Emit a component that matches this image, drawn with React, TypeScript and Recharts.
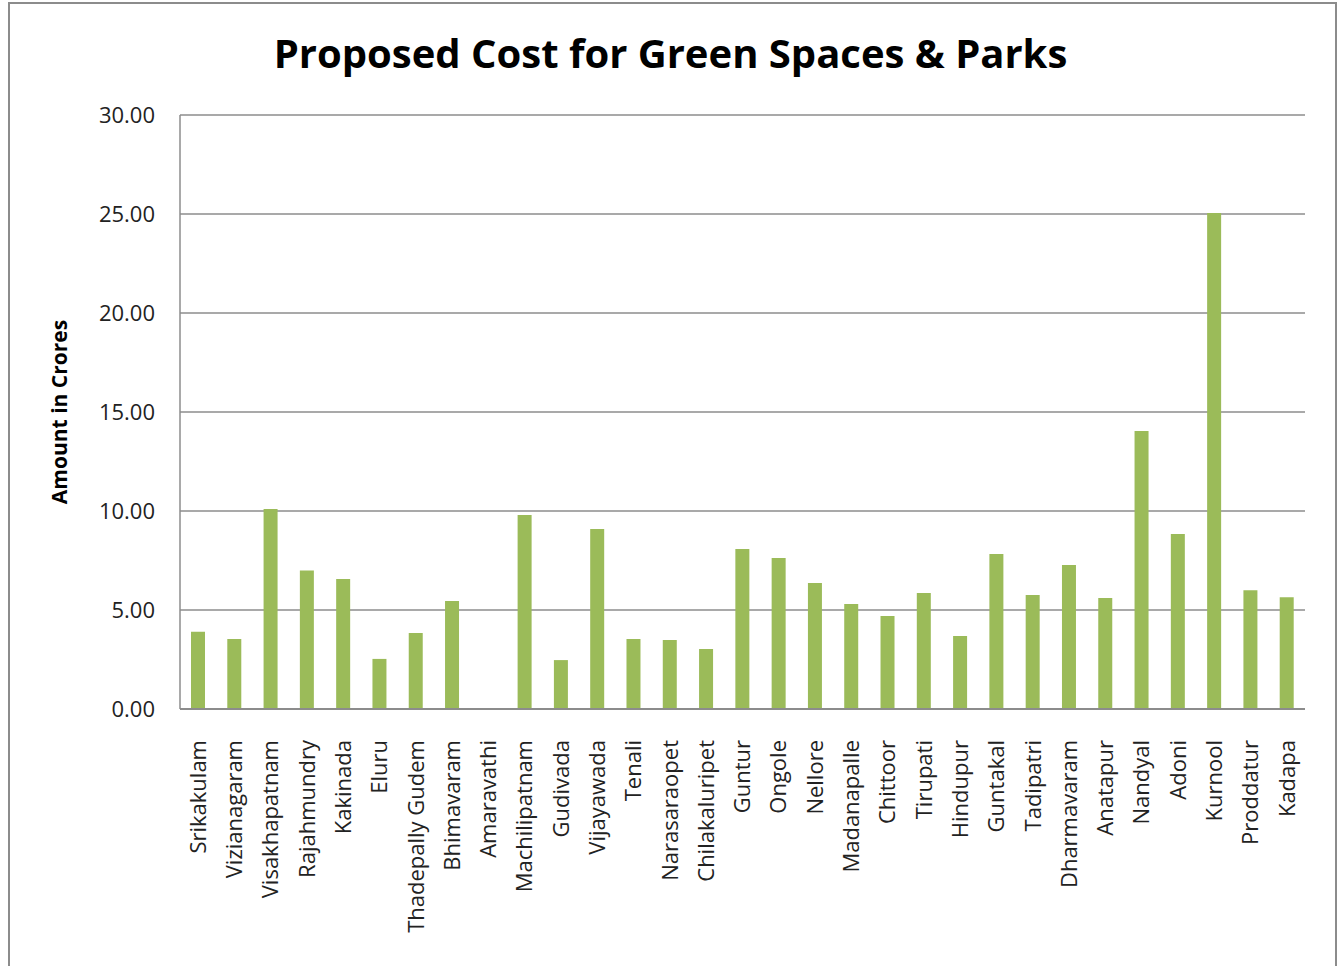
import { Bar, BarChart, CartesianGrid, XAxis, YAxis } from "recharts"

const cities = [
  "Srikakulam", "Vizianagaram", "Visakhapatnam", "Rajahmundry", "Kakinada", "Eluru",
  "Thadepally Gudem", "Bhimavaram", "Amaravathi", "Machilipatnam", "Gudivada", "Vijayawada",
  "Tenali", "Narasaraopet", "Chilakaluripet", "Guntur", "Ongole", "Nellore", "Madanapalle",
  "Chittoor", "Tirupati", "Hindupur", "Guntakal", "Tadipatri", "Dharmavaram", "Anatapur",
  "Nandyal", "Adoni", "Kurnool", "Proddatur", "Kadapa",
]

const costs = [
  3.9, 3.54, 10.1, 7.0, 6.57, 2.53,
  3.84, 5.45, 0, 9.8, 2.47, 9.09,
  3.54, 3.48, 3.03, 8.08, 7.63, 6.36, 5.3,
  4.7, 5.86, 3.69, 7.83, 5.76, 7.27, 5.6,
  14.04, 8.84, 25.05, 6.0, 5.65,
]

const yTicks = [0, 5, 10, 15, 20, 25, 30]

const data = cities.map((city, i) => ({ city, cost: costs[i] }))

const FONT = "'Open Sans', 'Noto Sans', sans-serif"

function CityTick({ x, y, payload }: any) {
  return (
    <text
      x={x}
      y={y + 23}
      transform={`rotate(-90 ${x} ${y + 23})`}
      textAnchor="end"
      dy="0.35em"
      fontSize={22}
      fontFamily={FONT}
      fill="#222"
    >
      {payload.value}
    </text>
  )
}

export default function App() {
  return (
    <div style={{ position: "absolute", left: 0, top: 0, width: 1341, height: 966, background: "#fff", overflow: "hidden" }}>
      <div
        style={{
          position: "absolute",
          left: 8,
          top: 2,
          width: 1329,
          height: 980,
          border: "2px solid #8c8c8c",
          boxSizing: "border-box",
        }}
      />
      <div
        style={{
          position: "absolute",
          left: 0,
          top: 25,
          width: 1341,
          textAlign: "center",
          fontFamily: FONT,
          fontWeight: 700,
          fontSize: 40,
          color: "#000",
        }}
      >
        Proposed Cost for Green Spaces &amp; Parks
      </div>
      <BarChart
        width={1341}
        height={966}
        data={data}
        margin={{ top: 115, right: 36, bottom: 0, left: 0 }}
        barSize={14}
        style={{ position: "absolute", left: 0, top: 0 }}
      >
        <CartesianGrid vertical={false} stroke="#8c8c8c" strokeWidth={1.5} />
        <XAxis
          dataKey="city"
          interval={0}
          tick={<CityTick />}
          tickLine={false}
          axisLine={{ stroke: "#8c8c8c", strokeWidth: 2 }}
          height={257}
        />
        <YAxis
          width={180}
          domain={[0, 30]}
          ticks={yTicks}
          tickFormatter={(v: number) => v.toFixed(2)}
          tick={{ fill: "#222", fontSize: 22, fontFamily: FONT }}
          tickLine={false}
          tickSize={0}
          tickMargin={25}
          axisLine={{ stroke: "#8c8c8c", strokeWidth: 1.5 }}
          label={{
            value: "Amount in Crores",
            angle: -90,
            position: "insideLeft",
            offset: 60,
            style: { fontFamily: FONT, fontWeight: 700, fontSize: 21, fill: "#000", textAnchor: "middle" },
          }}
        />
        <Bar dataKey="cost" fill="#9bbb59" isAnimationActive={false} />
      </BarChart>
    </div>
  )
}
